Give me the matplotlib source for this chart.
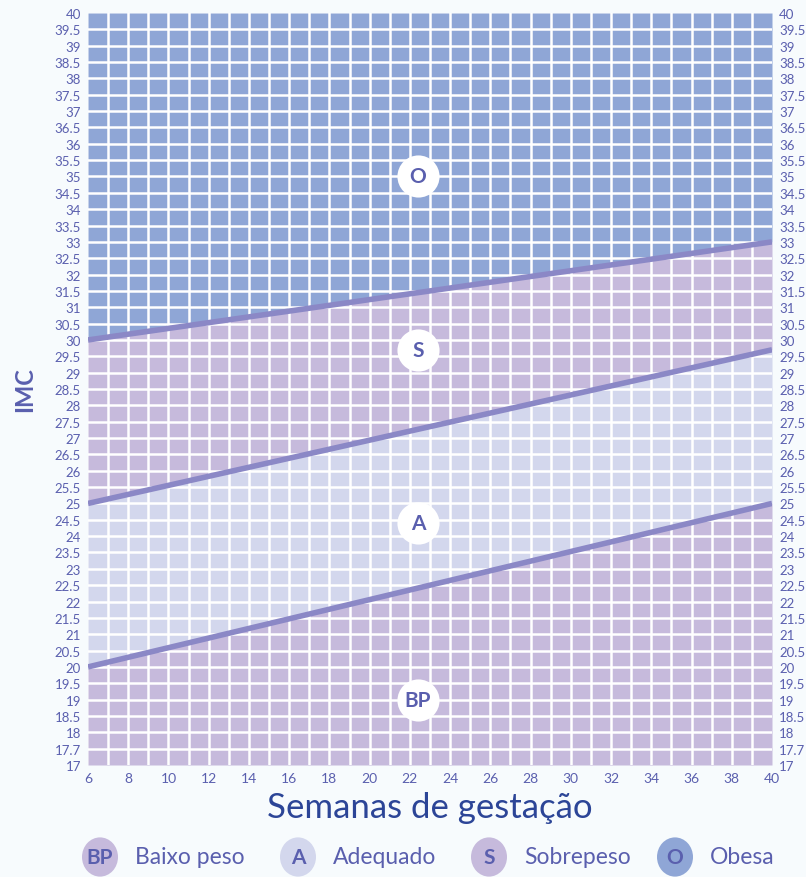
import numpy as np
import matplotlib.pyplot as plt
from matplotlib.patches import Circle

plt.rcParams['font.family'] = ['Lato', 'DejaVu Sans']

# Limites de IMC por semana de gestação (extremos das retas)
semanas = [6, 40]
limite_bp_a = [20, 25]
limite_a_s = [25, 29.7]
limite_s_o = [30, 33]

# Rótulos das faixas e posição dos círculos
faixas = ['O', 'S', 'A', 'BP']
pos_faixas_x = [22.4, 22.4, 22.4, 22.4]
pos_faixas_y = [35.0, 29.7, 24.4, 19.0]

legenda_siglas = ['BP', 'A', 'S', 'O']
legenda_textos = ['Baixo peso', 'Adequado', 'Sobrepeso', 'Obesa']

ticks_y = np.arange(17, 40.01, 0.5)
rotulos_y = ['%g' % v for v in ticks_y]
rotulos_y[1] = '17.7'
ticks_x = list(range(6, 41, 2))

cor_o = '#8fa6d6'
cor_s = '#c6badc'
cor_a = '#d3d7ed'
cor_bp = '#c6badc'
cor_linha = '#8b88c6'
cor_texto = '#5a5fae'
cor_titulo = '#2c4597'
fundo = '#f7fbfd'

fig = plt.figure(figsize=(8.06, 8.78), dpi=100)
fig.patch.set_facecolor(fundo)
ax = fig.add_axes([88/806, 1 - 766/878, 684/806, 752/878])
ax.set_xlim(6, 40)
ax.set_ylim(17, 40)

x = np.array(semanas)
ax.fill_between(x, 17, limite_bp_a, color=cor_bp, lw=0, zorder=1)
ax.fill_between(x, limite_bp_a, limite_a_s, color=cor_a, lw=0, zorder=1)
ax.fill_between(x, limite_a_s, limite_s_o, color=cor_s, lw=0, zorder=1)
ax.fill_between(x, limite_s_o, 40, color=cor_o, lw=0, zorder=1)

# grade branca
for xv in range(7, 40):
    ax.axvline(xv, color='white', lw=1.8, zorder=2)
for yv in np.arange(17.5, 40, 0.5):
    ax.axhline(yv, color='white', lw=1.8, zorder=2)

for lim in [limite_bp_a, limite_a_s, limite_s_o]:
    ax.plot(x, lim, color=cor_linha, lw=4, solid_capstyle='butt', zorder=3)

for sig, fx, fy in zip(faixas, pos_faixas_x, pos_faixas_y):
    ax.scatter([fx], [fy], s=920, color='white', zorder=4, lw=0)
    ax.text(fx, fy, sig, color=cor_texto, fontsize=15, fontweight='bold',
            ha='center', va='center', zorder=5)

for s in ax.spines.values():
    s.set_visible(False)

ax.set_yticks(ticks_y)
ax.set_yticklabels(rotulos_y)
ax.set_xticks(ticks_x)
ax.tick_params(axis='both', length=0, labelsize=9.5, labelcolor=cor_texto)
ax.tick_params(axis='y', pad=5, labelright=True, right=False)
ax.tick_params(axis='x', pad=5, labelsize=10)

ax.set_xlabel('Semanas de gestação', fontsize=25, color=cor_titulo, labelpad=5)
fig.text(25/806, 1 - 390/878, 'IMC', rotation=90, fontsize=17, fontweight='bold',
         color=cor_texto, ha='center', va='center')

# legenda
leg_x = [100, 298, 489, 675]
cores_leg = [cor_bp, cor_a, cor_s, cor_o]
for sig, txt, lx, cor in zip(legenda_siglas, legenda_textos, leg_x, cores_leg):
    fy = 1 - 858/878
    fig.patches.append(Circle((lx/806, fy), 18/806, transform=fig.transFigure,
                              facecolor=cor, edgecolor='none', figure=fig))
    fig.text(lx/806, fy, sig, fontsize=15, fontweight='bold', color=cor_texto,
             ha='center', va='center')
    fig.text((lx + 35)/806, fy, txt, fontsize=16.5, color=cor_texto,
             ha='left', va='center')

fig.savefig('out.png', dpi=100, facecolor=fundo)
